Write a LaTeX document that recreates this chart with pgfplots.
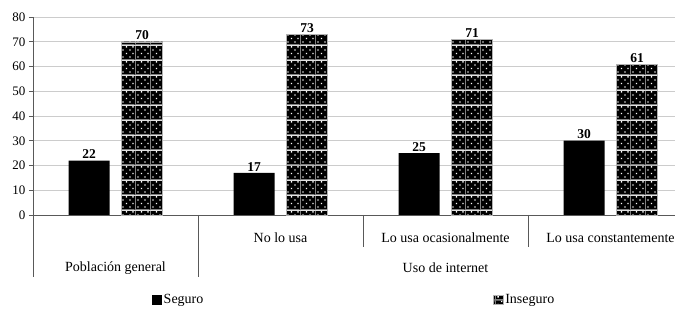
\documentclass[border=0pt]{standalone}
\usepackage{pgfplots}
\pgfplotsset{compat=1.18}
\usetikzlibrary{patterns}
\usepackage{fontspec}
\setmainfont{Liberation Serif}

\pgfdeclarepatterninherentlycolored{insdots}{\pgfpointorigin}{\pgfqpoint{15pt}{15pt}}{\pgfqpoint{15pt}{15pt}}{%
  \pgfsetfillcolor{black}%
  \pgfpathrectangle{\pgfpointorigin}{\pgfqpoint{15pt}{15pt}}\pgfusepath{fill}%
  \pgfsetfillcolor{white}%
  \pgfpathrectangle{\pgfqpoint{2.5pt}{2.5pt}}{\pgfqpoint{1.4pt}{1.4pt}}%
  \pgfpathrectangle{\pgfqpoint{10pt}{2.5pt}}{\pgfqpoint{1.4pt}{1.4pt}}%
  \pgfpathrectangle{\pgfqpoint{6.25pt}{6.25pt}}{\pgfqpoint{1.4pt}{1.4pt}}%
  \pgfpathrectangle{\pgfqpoint{13.2pt}{6.25pt}}{\pgfqpoint{1.4pt}{1.4pt}}%
  \pgfpathrectangle{\pgfqpoint{2.5pt}{10pt}}{\pgfqpoint{1.4pt}{1.4pt}}%
  \pgfpathrectangle{\pgfqpoint{10pt}{10pt}}{\pgfqpoint{1.4pt}{1.4pt}}%
  \pgfpathrectangle{\pgfqpoint{6.25pt}{13.2pt}}{\pgfqpoint{1.4pt}{1.4pt}}%
  \pgfpathrectangle{\pgfqpoint{13.2pt}{13.2pt}}{\pgfqpoint{1.4pt}{1.4pt}}%
  \pgfusepath{fill}%
  \pgfsetstrokecolor{gray}%
  \pgfsetlinewidth{0.8pt}%
  \pgfpathmoveto{\pgfqpoint{0.4pt}{0pt}}\pgfpathlineto{\pgfqpoint{0.4pt}{15pt}}%
  \pgfpathmoveto{\pgfqpoint{0pt}{0.4pt}}\pgfpathlineto{\pgfqpoint{15pt}{0.4pt}}%
  \pgfusepath{stroke}%
}

\begin{document}
\begin{tikzpicture}
\useasboundingbox (-33pt,-100pt) rectangle (642pt,215pt);
\begin{axis}[
  scale only axis,
  width=642pt, height=198pt,
  xmin=-0.5, xmax=3.3909,
  ymin=0, ymax=80,
  ytick={0,10,...,80},
  xtick=\empty,
  ybar=12pt, bar width=41pt,
  axis x line=bottom,
  axis y line=left,
  axis line style={draw=gray!70!black, line width=0.8pt, -},
  ymajorgrids,
  grid style={gray!40, line width=0.8pt},
  tick align=outside,
  major tick length=4pt,
  ytick style={draw=gray!70!black, line width=0.8pt},
  /pgf/number format/assume math mode=true,
  yticklabel style={font=\fontsize{13}{14}\selectfont},
  clip=false,
  nodes near coords,
  every node near coord/.append style={font=\bfseries\fontsize{13.5}{14}\selectfont, inner sep=1.5pt, black},
  legend columns=2,
  legend style={at={(axis description cs:0.1854,-0.4293)}, anchor=west, draw=none,
    inner sep=0pt, font=\fontsize{14}{15}\selectfont,
    /tikz/every even column/.append style={column sep=288pt}},
  legend image code/.code={\fill[#1] (0pt,-4.5pt) rectangle (9.5pt,4.5pt);},
]
\addplot[fill=black, draw=none]
  coordinates {(0,22) (1,17) (2,25) (3,30)};
\addlegendentry{Seguro}
\addplot[pattern=insdots, draw=gray!60]
  coordinates {(0,70) (1,73) (2,71) (3,61)};
\addlegendentry{Inseguro}

\draw[gray!70!black, line width=0.8pt] (axis cs:-0.5,0) -- ([yshift=-62pt]axis cs:-0.5,0);
\draw[gray!70!black, line width=0.8pt] (axis cs:0.5,0) -- ([yshift=-62pt]axis cs:0.5,0);
\draw[gray!70!black, line width=0.8pt] (axis cs:1.5,0) -- ([yshift=-32pt]axis cs:1.5,0);
\draw[gray!70!black, line width=0.8pt] (axis cs:2.5,0) -- ([yshift=-32pt]axis cs:2.5,0);
\node[font=\fontsize{14}{15}\selectfont] at ([yshift=-23pt]axis cs:1,0) {No lo usa};
\node[font=\fontsize{14}{15}\selectfont] at ([yshift=-23pt]axis cs:2,0) {Lo usa ocasionalmente};
\node[font=\fontsize{14}{15}\selectfont] at ([yshift=-23pt]axis cs:3,0) {Lo usa constantemente};
\node[font=\fontsize{14}{15}\selectfont] at ([yshift=-53pt]axis cs:0,0) {Población general};
\node[font=\fontsize{14}{15}\selectfont] at ([yshift=-53pt]axis cs:2,0) {Uso de internet};
\end{axis}
\end{tikzpicture}
\end{document}
